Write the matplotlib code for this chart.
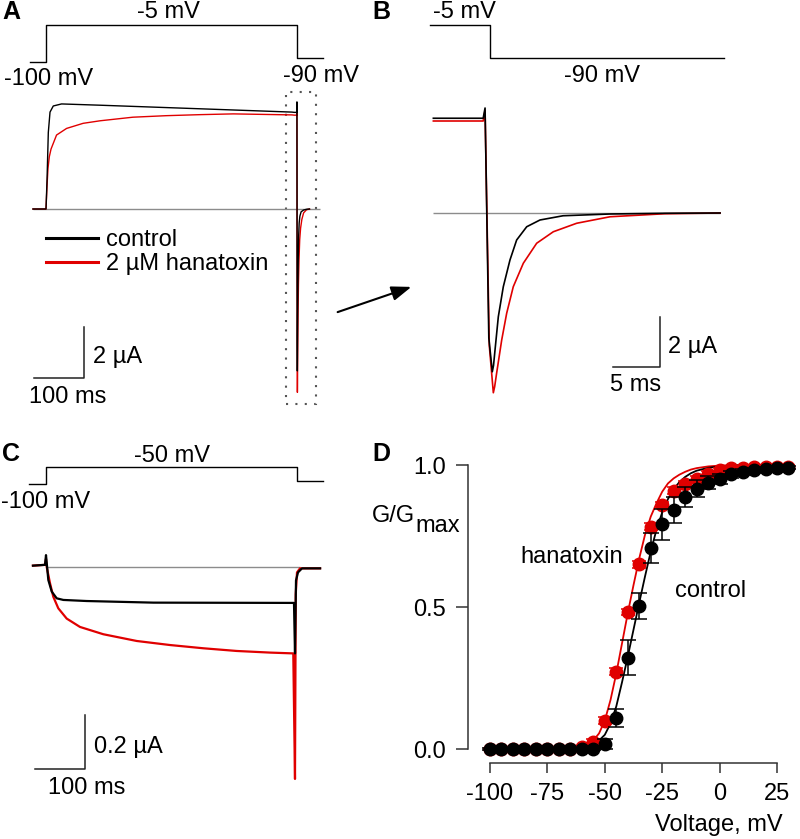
import matplotlib
matplotlib.use('Agg')
import matplotlib.pyplot as plt
from matplotlib.lines import Line2D
from matplotlib.patches import Rectangle, FancyArrowPatch

plt.rcParams['font.family'] = ['Liberation Sans', 'DejaVu Sans']
plt.rcParams['font.size'] = 17
plt.rcParams['axes.unicode_minus'] = False

RED = '#e00000'
GRAY = '#8c8c8c'
INK = '#222222'

# ---- voltage protocols (ms, mV)
prot_ab_t = [-32, 0, 500, 552]
prot_ab_v = [-100, -5, -90, -90]
prot_b_t = [-6.4, 0, 24.9]
prot_b_v = [-5, -90, -90]
prot_c_t = [-34, 0, 500, 552]
prot_c_v = [-100, -50, -90, -90]

# ---- A: activation during step to -5 mV (ms, uA)
ctrl_on_t = [-26, 0, 2, 4.6, 8, 14.5, 31, 108, 307, 490]
ctrl_on_i = [0, 0, 1.1, 3.0, 3.8, 4.04, 4.12, 4.07, 3.93, 3.80]
htx_on_t = [-26, 0, 2, 4, 6.6, 10, 21, 41, 74, 108, 173, 240, 307, 373, 490]
htx_on_i = [0, 0, 0.9, 1.6, 2.05, 2.35, 2.90, 3.16, 3.36, 3.46, 3.60, 3.66, 3.70, 3.73, 3.69]

# ---- B: tail currents at -90 mV, time from repolarization (ms, uA)
ctrl_tail_t = [-5.6, -0.3, -0.1, 0.3, 0.67, 0.8, 0.96, 1.31, 1.84, 2.55, 3.26, 4.33, 5.74, 8.2, 13.2, 19.0, 24.9]
ctrl_tail_i = [3.79, 3.79, 4.2, -5.0, -6.35, -6.1, -5.48, -4.15, -2.95, -1.88, -1.08, -0.55, -0.28, -0.11, -0.04, -0.01, 0.0]
htx_tail_t = [-5.6, -0.3, -0.1, 0.35, 0.78, 0.92, 1.13, 1.67, 2.2, 2.9, 3.97, 5.39, 7.16, 9.65, 13.2, 19.0, 24.9]
htx_tail_i = [3.68, 3.68, 4.1, -5.3, -7.19, -6.95, -6.41, -5.08, -4.01, -2.95, -2.01, -1.21, -0.75, -0.41, -0.15, -0.03, 0.0]
tail_start = 500

# ---- C: step to -50 mV (ms, uA)
ctrl_c_t = [-26, -2, 0, 4.6, 11.4, 21.3, 34.5, 81, 214, 494, 496, 498, 502, 510, 546]
ctrl_c_i = [0.005, 0.008, 0.044, -0.048, -0.091, -0.116, -0.122, -0.126, -0.132, -0.133, -0.32, -0.05, -0.02, -0.005, -0.005]
htx_c_t = [-26, -2, 0, 1.4, 8, 14.5, 24.5, 41.2, 67.7, 114.1, 180.7, 247, 313.3, 379.9, 446.2, 492.6, 496, 497.5, 500, 506, 546]
htx_c_i = [0.005, 0.008, 0.03, 0.0, -0.06, -0.11, -0.153, -0.191, -0.222, -0.249, -0.274, -0.289, -0.301, -0.311, -0.317, -0.320, -0.785, -0.1, -0.02, -0.005, -0.005]

# ---- D: G/Gmax vs voltage
volts = [-100, -95, -90, -85, -80, -75, -70, -65, -60, -55, -50, -45, -40, -35,
         -30, -25, -20, -15, -10, -5, 0, 5, 10, 15, 20, 25, 30]
g_ctrl = [0, 0, 0, 0, 0, 0, 0, 0, 0, 0.0, 0.017, 0.108, 0.322, 0.504,
          0.707, 0.791, 0.842, 0.887, 0.917, 0.937, 0.952, 0.967, 0.975, 0.981, 0.987, 0.99, 0.99]
e_ctrl = [0.003, 0.003, 0.003, 0.003, 0.003, 0.003, 0.003, 0.003, 0.003, 0.004, 0.018, 0.032, 0.062, 0.046,
          0.053, 0.055, 0.047, 0.035, 0.03, 0.023, 0.018, 0.012, 0.01, 0.008, 0.006, 0.005, 0.005]
g_htx = [0, 0, 0, 0, 0, 0, 0, 0, 0.006, 0.026, 0.10, 0.272, 0.483, 0.651,
         0.783, 0.859, 0.91, 0.934, 0.952, 0.97, 0.981, 0.988, 0.99, 0.992, 0.992, 0.992, 0.992]
e_htx = [0.005, 0.005, 0.005, 0.005, 0.005, 0.005, 0.005, 0.005, 0.006, 0.01, 0.012, 0.012, 0.01, 0.012,
         0.012, 0.012, 0.012, 0.01, 0.01, 0.01, 0.01, 0.008, 0.008, 0.008, 0.008, 0.008, 0.008]
v_fit = [-102, -90, -80, -70, -65, -60, -57.5, -55, -52.5, -50, -47.5, -45, -42.5, -40, -37.5, -35,
         -32.5, -30, -27.5, -25, -22.5, -20, -17.5, -15, -12.5, -10, -5, 0, 10, 20, 30]
fit_ctrl = [0, 0, 0.0003, 0.003, 0.006, 0.01, 0.014, 0.02, 0.03, 0.05, 0.09, 0.15, 0.235, 0.325, 0.42, 0.515,
            0.607, 0.695, 0.772, 0.833, 0.88, 0.915, 0.94, 0.958, 0.971, 0.98, 0.99, 0.995, 0.999, 1.0, 1.0]
fit_htx = [0, 0, 0.001, 0.004, 0.008, 0.015, 0.021, 0.03, 0.055, 0.10, 0.173, 0.266, 0.372, 0.478, 0.577, 0.671,
           0.754, 0.818, 0.865, 0.906, 0.935, 0.953, 0.966, 0.976, 0.984, 0.989, 0.995, 0.998, 1.0, 1.0, 1.0]

W, H = 800, 839
fig = plt.figure(figsize=(W / 100, H / 100), dpi=100)


def px_axes(box, origin, scale):
    # axes over a pixel box (y down); origin = pixel of data (0, 0); scale = px per unit
    x0, y0, x1, y1 = box
    ox, oy = origin
    sx, sy = scale
    ax = fig.add_axes([x0 / W, 1 - y1 / H, (x1 - x0) / W, (y1 - y0) / H])
    ax.set_xlim((x0 - ox) / sx, (x1 - ox) / sx)
    ax.set_ylim((oy - y1) / sy, (oy - y0) / sy)
    ax.set_axis_off()
    return ax


def label(x, y, s, ha='left', **kw):
    fig.text(x / W, 1 - y / H, s, ha=ha, va='baseline', **kw)


def scalebar(ax, x, y, dx, dy):
    ax.plot([x - dx, x, x], [y, y, y + dy], color=INK, lw=1.1, clip_on=False)


def protocol(ax, t, v):
    ax.plot(t, v, drawstyle='steps-post', color='k', lw=1.0, clip_on=False)


# ================= A
ax_pa = px_axes((20, 10, 345, 75), (46, 23.1), (0.502, 0.389))
protocol(ax_pa, prot_ab_t, prot_ab_v)
ax_a = px_axes((20, 85, 345, 412), (46, 209), (0.502, 25.5))
ax_a.hlines(0, -26, 546, color=GRAY, lw=1.0)
ax_a.plot(htx_on_t + [t + tail_start for t in htx_tail_t], htx_on_i + htx_tail_i,
          color=RED, lw=1.0, clip_on=False)
ax_a.plot(ctrl_on_t + [t + tail_start for t in ctrl_tail_t], ctrl_on_i + ctrl_tail_i,
          color='k', lw=1.0, clip_on=False)
ax_a.add_patch(Rectangle((478, -7.65), 60, 12.24, fill=False, ec='#555555',
                         lw=1.5, ls=(0, (1, 3.5)), clip_on=False))
scalebar(ax_a, 76, -6.63, 100, 2)
handles = [Line2D([], [], color='k', lw=2.2), Line2D([], [], color=RED, lw=2.2)]
ax_a.legend(handles, ['control', '2 µM hanatoxin'], loc='upper left',
            bbox_to_anchor=(46 / W, 1 - 229 / H), bbox_transform=fig.transFigure,
            frameon=False, handlelength=2.2, handletextpad=0.35, borderpad=0,
            borderaxespad=0, labelspacing=0.1, fontsize=17)

label(2, 19, 'A', fontsize=18, fontweight='bold')
label(168, 18, '-5 mV', ha='center')
label(49, 85, '-100 mV', ha='center')
label(321, 82, '-90 mV', ha='center')
label(93, 363, '2 µA')
label(68, 403, '100 ms', ha='center')

fig.add_artist(FancyArrowPatch((335 / W, 1 - 313 / H), (414 / W, 1 - 286 / H),
                               transform=fig.transFigure, color='k', lw=1.5,
                               arrowstyle='-|>,head_length=0.6,head_width=0.22',
                               mutation_scale=20))

# ================= B
ax_pb = px_axes((425, 10, 735, 75), (490, 23.06), (9.4, 0.388))
protocol(ax_pb, prot_b_t, prot_b_v)
ax_b = px_axes((425, 95, 735, 405), (486, 213), (9.4, 25))
ax_b.hlines(0, -5.6, 24.9, color=GRAY, lw=1.0)
ax_b.plot(htx_tail_t, htx_tail_i, color=RED, lw=1.2)
ax_b.plot(ctrl_tail_t, ctrl_tail_i, color='k', lw=1.2)
scalebar(ax_b, 18.5, -6.16, 5, 2)

label(372, 19, 'B', fontsize=18, fontweight='bold')
label(464, 18, '-5 mV', ha='center')
label(602, 82, '-90 mV', ha='center')
label(668, 353, '2 µA')
label(636, 391, '5 ms', ha='center')

# ================= C
ax_pc = px_axes((20, 455, 345, 500), (46, 450), (0.502, 0.34))
protocol(ax_pc, prot_c_t, prot_c_v)
ax_c = px_axes((20, 540, 345, 800), (46, 567), (0.502, 270))
ax_c.hlines(0, 0, 506, color=GRAY, lw=1.0)
ax_c.plot(htx_c_t, htx_c_i, color=RED, lw=1.6, clip_on=False)
ax_c.plot(ctrl_c_t, ctrl_c_i, color='k', lw=1.6, clip_on=False)
scalebar(ax_c, 77.7, -0.748, 100, 0.2)

label(2, 461, 'C', fontsize=18, fontweight='bold')
label(172, 462, '-50 mV', ha='center')
label(46, 508, '-100 mV', ha='center')
label(94, 753, '0.2 µA')
label(87, 794, '100 ms', ha='center')

# ================= D
ax_d = px_axes((468, 455, 795, 763), (490 + 100 * 2.296, 749), (2.296, 284))
ax_d.set_axis_on()
ax_d.patch.set_visible(False)
ax_d.plot(v_fit, fit_htx, color=RED, lw=1.3, zorder=2, clip_on=False)
ax_d.plot(v_fit, fit_ctrl, color='k', lw=1.3, zorder=2, clip_on=False)
ax_d.errorbar(volts, g_htx, yerr=e_htx, fmt='o', color=RED, ms=9, capsize=5,
              elinewidth=1.1, capthick=1.1, zorder=3, clip_on=False)
ax_d.errorbar(volts, g_ctrl, yerr=e_ctrl, fmt='o', color='k', ms=9, capsize=6,
              elinewidth=1.1, capthick=1.1, zorder=4, clip_on=False)
for side in ('top', 'right'):
    ax_d.spines[side].set_visible(False)
for side in ('left', 'bottom'):
    ax_d.spines[side].set_color('#333333')
    ax_d.spines[side].set_linewidth(1.1)
ax_d.spines['left'].set_bounds(0, 1)
ax_d.spines['bottom'].set_bounds(-100, 25)
ax_d.set_xticks([-100, -75, -50, -25, 0, 25])
ax_d.set_yticks([0, 0.5, 1.0])
ax_d.set_yticklabels(['0.0', '0.5', '1.0'])
ax_d.tick_params(axis='y', direction='out', length=9, width=1.1, pad=7, colors='#333333',
                 labelcolor='k', labelsize=17)
ax_d.tick_params(axis='x', direction='out', length=7, width=1.1, pad=7.5, colors='#333333',
                 labelcolor='k', labelsize=17)

label(372, 461, 'D', fontsize=18, fontweight='bold')
label(372, 522, 'G/G')
label(415, 532, 'max')
label(520, 563, 'hanatoxin')
label(675, 597, 'control')
label(783, 831, 'Voltage, mV', ha='right')

fig.savefig('out.png', dpi=100)
